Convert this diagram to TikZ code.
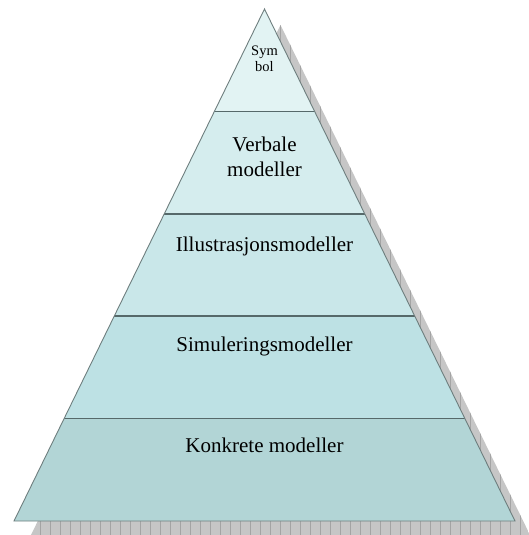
\documentclass[tikz,border=0pt]{standalone}
\usepackage{fontspec}
\setmainfont{Liberation Serif}
\definecolor{bandA}{HTML}{E2F3F3}
\definecolor{bandB}{HTML}{D5EDEE}
\definecolor{bandC}{HTML}{C9E7E9}
\definecolor{bandD}{HTML}{BDE1E4}
\definecolor{bandE}{HTML}{B2D5D6}
\definecolor{sepcol}{HTML}{56696A}
\definecolor{edgecol}{HTML}{6E7E7E}
\definecolor{shadefill}{HTML}{C6C6C6}
\definecolor{shadeline}{HTML}{A4A4A4}
\begin{document}
\begin{tikzpicture}[x=1pt,y=-1pt,
  lbl/.style={anchor=base, inner sep=0pt, font=\fontsize{21}{25}\selectfont},
  smalllbl/.style={anchor=base, inner sep=0pt, font=\fontsize{14.5}{16}\selectfont},
  sepline/.style={draw=sepcol, line width=1.6pt},
  outline/.style={draw=edgecol, line width=0.9pt, line join=miter},
  gridline/.style={draw=shadeline, line width=0.6pt}]
\clip (0,0) rectangle (529,535);
\coordinate (A) at (264.5,9);
\coordinate (L) at (14,521);
\coordinate (R) at (515,521);
% shadow
\begin{scope}
  \clip (30,537) -- (531,537) -- (280.5,25) -- cycle;
  \fill[shadefill] (0,0) rectangle (540,540);
  \draw[gridline] (0,0) grid[step=10] (540,540);
\end{scope}
% bands
\begin{scope}
  \clip (L) -- (R) -- (A) -- cycle;
  \fill[bandA] (0,0) rectangle (529,111.4);
  \fill[bandB] (0,111.4) rectangle (529,213.8);
  \fill[bandC] (0,213.8) rectangle (529,316.2);
  \fill[bandD] (0,316.2) rectangle (529,418.6);
  \fill[bandE] (0,418.6) rectangle (529,530);
  \draw[sepline] (0,111.4) -- (529,111.4);
  \draw[sepline] (0,213.8) -- (529,213.8);
  \draw[sepline] (0,316.2) -- (529,316.2);
  \draw[sepline] (0,418.6) -- (529,418.6);
\end{scope}
\draw[outline] (L) -- (R) -- (A) -- cycle;
% labels
\node[smalllbl] (sym) at (264.5,56) {Sym};
\node[smalllbl] (bol) at (264.5,71.7) {bol};
\node[lbl] (verb) at (264.5,151.7) {Verbale};
\node[lbl] (verbm) at (264.5,176.7) {modeller};
\node[lbl] (ill) at (264.5,251) {Illustrasjonsmodeller};
\node[lbl] (sim) at (264.5,351.7) {Simuleringsmodeller};
\node[lbl] (konk) at (264.5,452.7) {Konkrete modeller};
\end{tikzpicture}
\end{document}
